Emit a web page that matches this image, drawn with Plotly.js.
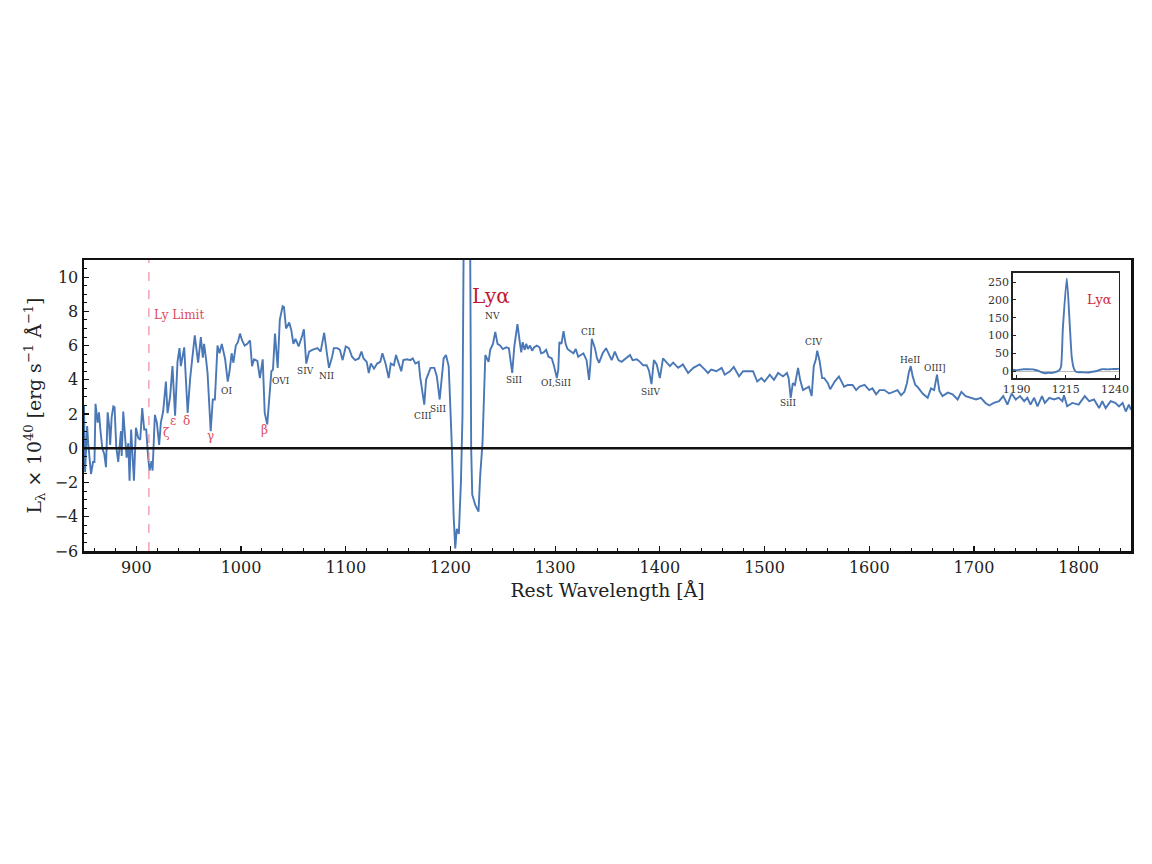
<!DOCTYPE html>
<html>
<head>
<meta charset="utf-8">
<script src="https://cdn.plot.ly/plotly-3.0.1.min.js"></script>
<style>
  html, body { margin: 0; padding: 0; background: #fff; }
  #chart { width: 1152px; height: 864px; }
</style>
</head>
<body>
<div id="chart"></div>
<script>
// spectrum, rest wavelength in angstrom
var wave = [850,851,853,854,856.7,858.6,860,861,863,864.3,865.6,867.5,869.4,871,872.6,874,875,876.4,878,879.2,
    880.8,882.7,885.3,886,887.5,889,890.7,892.3,893.5,895,896.4,897.7,899.6,901.8,903.7,905.6,907.5,909.4,911.3,912.6,
    914.5,915.5,917.7,919.6,921.8,923.4,925.6,928.2,929.8,932.3,934.5,937,939.3,941.2,942.5,945.7,948.2,949,951.4,955.8,
    959,961.6,963.5,964.7,966.6,968,971,973,975,977.5,979.4,981.6,984.8,987.3,989,991,992.7,995,997,999,
    1001,1003.5,1006,1008.6,1010.5,1012.4,1015.6,1018,1020.7,1022.6,1025,1027,1029,1030.5,1032.4,1035,1037,1039.7,
    1041,1043,1046,1048,1050,1052,1055,1058.5,1060,1062.3,1065,1068,1071,1073,1076,1079.4,1082,1084,1087,1088.6,
    1092,1094.4,1097,1100,1103,1106,1109,1112.5,1115,1117,1120,1122,1124,1127,1130,1133,1135,1138,1141,1143,
    1146,1148,1150.6,1153,1155,1158.5,1161.7,1164,1166.5,1169.7,1171,1173.5,1175,1176.7,1178,1181,1184.6,1187,1189.7,1191.6,
    1193.5,1195.7,1198.3,1199,1201.4,1203,1204.6,1206,1208,1210,1211.5,1212.5,1213.5,1215.5,1217,1218,1218.9,1219.8,1220.8,1223.6,
    1226.8,1228.4,1230.6,1232,1233.3,1236.4,1238,1240.6,1242.8,1245,1247.6,1250,1253.3,1255.8,1257.7,1259,1261,1262,1264,1266,
    1267.6,1269,1270.8,1272.4,1274,1276,1278,1280,1282.5,1285,1286.6,1289,1291.4,1293.6,1296.8,1299,1301.6,1303,1304,1306,
    1308,1310,1311.8,1315,1317.5,1319.7,1322,1324.5,1327,1330,1332.4,1333.7,1335,1338,1340,1342,1345.4,1348.6,1351,1354,
    1357,1360.4,1363.5,1368,1371.5,1374,1378,1381,1384,1387.4,1389.6,1392,1394.3,1397,1400,1403,1406,1409.6,1412.7,1417.5,
    1422,1427,1432,1438,1443,1446,1449,1454,1459,1462,1467,1470.6,1475.7,1479.5,1484,1489,1493,1497,1500,1505,
    1509,1513,1517.6,1521.4,1523,1525,1527,1529,1532,1534,1536.7,1540,1542.4,1545,1547,1549,1550.3,1552.6,1555,1557,
    1560.5,1562.7,1567,1571,1574,1576,1579.5,1584,1587.5,1590.7,1595.5,1600,1603,1606.6,1609.8,1614.5,1619,1624,1627,1630.4,
    1633.6,1636,1637.7,1639.6,1641.5,1644,1646,1648.5,1651,1655.8,1659,1662,1664.7,1667,1670,1675,1679.6,1684.4,1688,1692,
    1697,1702,1706.6,1711,1714.6,1719,1724,1728,1732,1736,1740,1744,1748,1751,1754,1757.5,1760.7,1765,1767.7,1772,
    1776.5,1781,1784.5,1786,1789,1794,1800,1805.8,1810,1814.7,1819.5,1822.6,1825.8,1830.6,1835,1838.5,1842,1845,1848,1850];
var lum = [2.5,-1.4,1.3,0.3,-1.5,-0.8,-0.8,2.6,1.5,2.1,1.1,0,-0.35,-1.1,2.1,1.3,0.2,1.8,2.45,2.4,
    0.1,-0.8,1,-0.45,2.15,0.7,-0.55,0.3,-1.9,1.1,-0.8,-1.9,1.2,0.6,0.5,2.35,1.1,1.1,-0.55,-1.3,
    -0.75,-1.3,1.95,1.5,0.2,1.5,2.15,3.9,2.05,3.05,4.8,1.9,5.05,5.85,4.8,5.9,3,2.07,4.1,6.6,
    5,6.5,5.3,6.1,5.2,4.4,1,2.85,2.85,6,5.55,6.1,5.2,3.9,4.5,5.55,5,6,6.2,6.7,
    6.3,6,6.1,6.3,4.8,5.2,5.1,4.1,5.2,2.07,1.4,2.85,4.5,4.6,6.7,4.7,7.5,8.3,
    8.25,7,7.35,6.9,6.1,6.4,5.95,6.6,6.95,4.95,5.65,5.75,5.8,5.85,5.65,6.75,5.55,4.7,5.35,5.85,
    5.85,5.75,5.15,5.95,5.85,5.35,5.15,5.25,5.65,5.25,5.05,4.4,4.95,4.65,4.95,5.05,5.55,4.95,4.1,4.95,
    4.85,5.45,4.95,4.5,5.15,5.2,5.15,5.25,4.95,5.05,4.2,3.2,2.55,4,4.25,4.7,4.7,4.2,2.85,4,
    5.25,5.45,4.8,3.8,0,-3.9,-5.85,-4.7,-5,-2,1.9,11,120,260,130,40,11,0,-2.7,-3.3,
    -3.7,-1.6,0.3,3.2,5.45,5.05,5.75,6.1,6.8,6.1,6,5.8,5.9,5.85,4.8,4.4,5.95,6.5,7.25,6.3,
    5.6,6.2,5.75,6.1,5.8,6,5.7,5.9,6,5.9,5.55,5.6,5.75,5.35,5.25,4.8,4.1,4.6,6.2,6.1,
    6.85,6.1,5.8,5.65,5.55,5.8,5.35,5.45,5.55,5.15,4,4.95,6.4,5.85,5.25,5,5.55,5.85,5.55,5.15,
    5.65,5.15,5.05,5.25,5.45,5.15,5.2,5.05,4.85,4.85,4.55,3.75,5.15,4.9,4.1,5.25,5.05,4.8,5,4.7,
    4.9,4.4,4.7,4.9,4.6,4.4,4.6,4.5,4.7,4.3,4.5,4.75,4.2,4.5,4.5,4.5,3.9,4.1,3.9,4.3,
    4,4.4,4.2,4.4,4.1,2.95,3.8,3.7,4.7,4,3.4,3.5,3.6,3.05,4.8,5.2,5.7,5.1,4.1,4.1,
    3.8,3.45,3.9,4.2,3.8,3.6,3.7,3.7,3.4,3.6,3.7,3.4,3.5,3.15,3.4,3.4,3.2,3.3,3.4,3.1,
    3.3,3.8,4.4,4.8,4.2,3.7,3.6,3.4,3.2,2.95,3.5,3.4,4.3,3.35,3.05,3.25,3.15,2.85,3.3,3.05,
    2.95,2.85,2.95,2.65,2.5,2.65,2.75,3.05,2.55,3.2,2.85,3.05,2.75,2.95,2.55,2.95,2.45,3.05,2.65,2.95,
    2.85,2.95,2.75,3.1,2.45,2.65,2.55,3.05,2.75,2.85,2.35,2.75,2.35,2.75,2.65,2.45,2.65,2.15,2.55,2.25];

var lyLimit = 912;

// line labels: name, wavelength, level
var redNames = ["Ly Limit", "ζ", "ε", "δ", "γ", "β"];
var redX = [940.6, 929, 935, 948, 971, 1022.5];
var redY = [7.77, 0.87, 1.57, 1.57, 0.7, 1.04];
var ionNames = ["OI", "OVI", "SIV", "NII", "CIII", "SiII", "NV", "SiII", "OI,SiII", "CII", "SiIV", "SiII", "CIV", "HeII", "OIII]"];
var ionX = [986, 1038, 1061.6, 1081.6, 1174, 1188.4, 1240, 1261, 1301, 1331.4, 1391.5, 1523, 1547, 1639, 1663];
var ionY = [3.36, 3.94, 4.5, 4.23, 1.9, 2.3, 7.7, 4, 3.83, 6.8, 3.3, 2.67, 6.2, 5.16, 4.7];

var serif = '"DejaVu Serif", serif';
var lineColor = "#4a78b6";
var redColor = "#de4a62";
var inkColor = "#333";

var notes = [];
redNames.forEach(function (name, i) {
    notes.push({x: redX[i], y: redY[i], xref: "x", yref: "y", text: name, showarrow: false,
        font: {family: serif, size: i === 0 ? 12 : 12, color: redColor}});
});
ionNames.forEach(function (name, i) {
    notes.push({x: ionX[i], y: ionY[i], xref: "x", yref: "y", text: name, showarrow: false,
        font: {family: serif, size: 9, color: inkColor}});
});
notes.push({x: 1239, y: 8.87, xref: "x", yref: "y", text: "Lyα", showarrow: false,
    font: {family: serif, size: 20, color: "#c4162e"}});
notes.push({x: 1231.9, y: 202, xref: "x2", yref: "y2", text: "Lyα", showarrow: false,
    font: {family: serif, size: 13, color: "#d0283f"}});

var traces = [
    {x: wave, y: lum, type: "scatter", mode: "lines", line: {color: lineColor, width: 1.9}},
    {x: wave, y: lum, xaxis: "x2", yaxis: "y2", type: "scatter", mode: "lines",
        line: {color: lineColor, width: 1.9, shape: "spline", smoothing: 0.6}}
];

var layout = {
    width: 1152,
    height: 864,
    showlegend: false,
    paper_bgcolor: "#fff",
    plot_bgcolor: "#fff",
    margin: {l: 84.25, r: 21, t: 260.25, b: 313.25, pad: 0},
    font: {family: serif, color: "#222"},
    xaxis: {
        range: [850, 1850], dtick: 100, ticks: "inside", ticklen: 5, tickwidth: 1.2, tickcolor: "#111",
        minor: {dtick: 20, ticks: "inside", ticklen: 3, tickwidth: 1, tickcolor: "#111"},
        showgrid: false, zeroline: false, showline: true, mirror: true, linecolor: "#111", linewidth: 2.5,
        tickfont: {family: serif, size: 16, color: "#222"},
        title: {text: "Rest Wavelength [Å]", font: {family: serif, size: 18.8, color: "#222"}, standoff: 8}
    },
    yaxis: {
        range: [-6, 11], dtick: 2, tick0: 0, ticks: "inside", ticklen: 5, tickwidth: 1.2, tickcolor: "#111",
        minor: {dtick: 0.5, ticks: "inside", ticklen: 3, tickwidth: 1, tickcolor: "#111"},
        showgrid: false, zeroline: false, showline: true, mirror: true, linecolor: "#111", linewidth: 2.5,
        tickfont: {family: serif, size: 16, color: "#222"},
        title: {text: "L<sub>λ</sub> × 10<sup>40</sup> [erg s<sup>−1</sup> Å<sup>−1</sup>]",
            font: {family: serif, size: 18.8, color: "#222"}, standoff: 8}
    },
    xaxis2: {
        domain: [0.887, 0.9885], anchor: "y2", range: [1188, 1242], tickvals: [1190, 1215, 1240],
        ticks: "inside", ticklen: 3, tickcolor: "#222", showgrid: false, zeroline: false,
        showline: true, mirror: true, linecolor: "#222", linewidth: 1.4,
        tickfont: {family: serif, size: 11, color: "#333"}
    },
    yaxis2: {
        domain: [0.5936, 0.9562], anchor: "x2", range: [-20, 276], dtick: 50, ticks: "inside", ticklen: 3,
        tickcolor: "#222", showgrid: false, zeroline: true, zerolinecolor: "#bbb", zerolinewidth: 1,
        showline: true, mirror: true, linecolor: "#222", linewidth: 1.4,
        tickfont: {family: serif, size: 11, color: "#333"}
    },
    shapes: [
        {type: "line", xref: "x", yref: "paper", x0: lyLimit, x1: lyLimit, y0: 0, y1: 1,
            line: {color: "#f08a9c", width: 1.2, dash: "dash"}},
        {type: "line", xref: "paper", yref: "y", x0: 0, x1: 1, y0: 0, y1: 0,
            line: {color: "#111", width: 2.5}}
    ],
    annotations: notes
};

Plotly.newPlot("chart", traces, layout, {displayModeBar: false, staticPlot: true});
</script>
</body>
</html>
